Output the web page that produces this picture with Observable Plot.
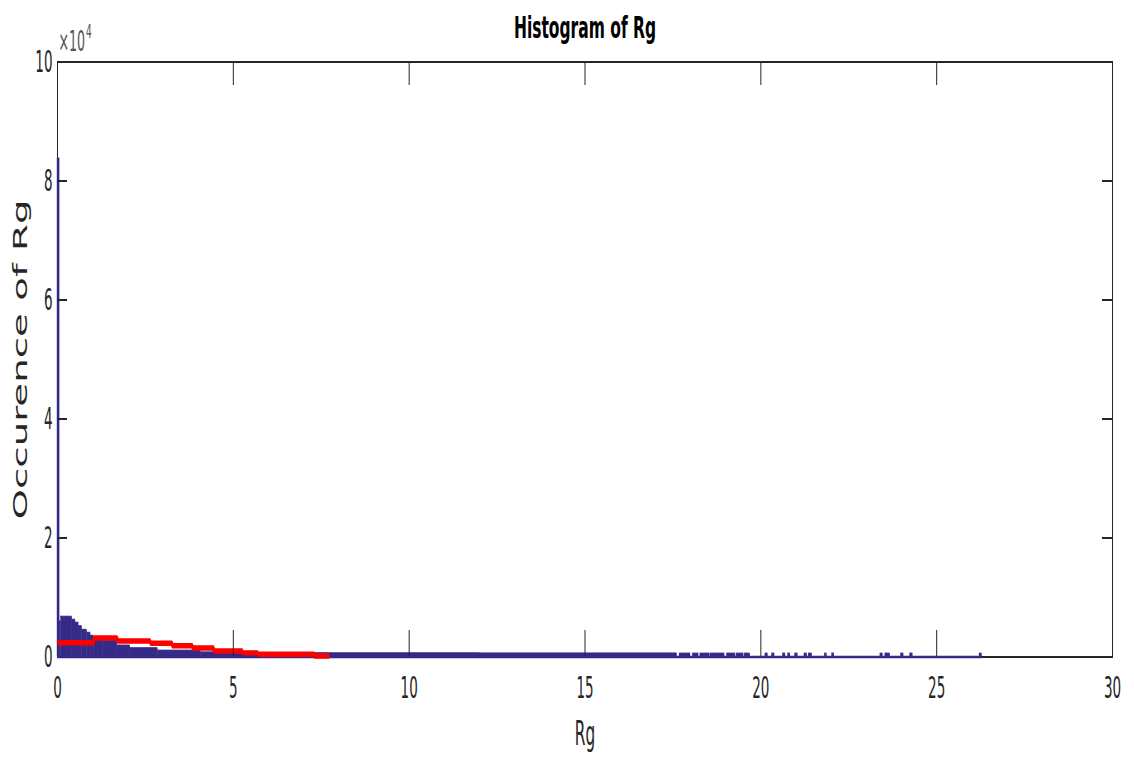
<!DOCTYPE html>
<html>
<head>
<meta charset="utf-8">
<script src="https://cdn.jsdelivr.net/npm/d3@7"></script>
<script src="https://cdn.jsdelivr.net/npm/@observablehq/plot@0.6"></script>
<style>
  html, body { margin: 0; padding: 0; background: #fff; overflow: hidden; }
  #chart { width: 1134px; height: 760px; }
  #chart svg { display: block; transform: scaleY(2); transform-origin: 0 0; }
</style>
</head>
<body>
<div id="chart"></div>
<script>
// ---- data ----
const titleText = "Histogram of Rg";
const xLabel = "Rg";
const yLabel = "Occurence of Rg";
const multiplierBase = "×10";
const multiplierExp = "4";

const xTicks = [0, 5, 10, 15, 20, 25, 30];
const yTicks = [0, 20000, 40000, 60000, 80000, 100000];
const yTickLabels = ["0", "2", "4", "6", "8", "10"];

// blue histogram bins (fine bins)
const blueStart = [0, 0.06, 0.10, 0.42, 0.51, 0.60, 0.70, 0.84, 0.94, 1.03, 1.30, 1.70, 2.07, 2.85, 4.07, 4.69, 5.90, 7.70, 12.0,
  17.69, 18.07, 18.28, 18.57, 19.04, 19.31, 19.54, 20.13, 20.32, 20.63, 20.78, 20.98, 21.24, 21.36, 21.82, 22.03, 23.40, 23.54, 23.99, 24.25, 26.22];
const blueEnd = [0.06, 0.10, 0.42, 0.51, 0.60, 0.70, 0.84, 0.94, 1.03, 1.30, 1.70, 2.07, 2.85, 4.07, 4.69, 5.90, 7.70, 12.0, 17.62,
  18.00, 18.23, 18.55, 18.97, 19.28, 19.51, 19.70, 20.20, 20.39, 20.70, 20.84, 21.05, 21.32, 21.46, 21.88, 22.09, 23.47, 23.68, 24.06, 24.32, 26.29];
const blueCount = [83700, 5900, 6700, 6200, 5700, 5100, 4500, 4000, 3500, 3000, 2600, 1850, 1400, 1000, 700, 600, 560, 550, 520,
  500, 500, 500, 500, 500, 500, 500, 500, 500, 500, 500, 500, 500, 500, 500, 500, 500, 500, 500, 500, 500];
const blueBaselineEnd = 26.29;

// red step histogram (coarse bins)
const redEdges = [0, 1.03, 1.70, 2.64, 3.26, 3.84, 4.44, 5.26, 5.70, 7.30, 7.73];
const redCounts = [2400, 3200, 2700, 2300, 1900, 1500, 1000, 700, 450, 170];

// ---- styles ----
const blue = "#352A87";
const red = "#FF0000";
const axisColor = "#262626";
const condensed = "'DejaVu Sans Condensed', 'Liberation Sans Narrow', 'DejaVu Sans', sans-serif";

const blueTable = blueStart.map((s, i) => ({start: s, end: blueEnd[i], count: blueCount[i]}));
const redTable = redEdges.map((e, i) => ({x: e, y: redCounts[Math.min(i, redCounts.length - 1)]}));

const W = 1134, H = 380;
const mL = 57, mR = 22, mT = 30.5, mB = 52;
const plotW = W - mL - mR, plotH = H - mT - mB;
const xTickLen = 13, yTickLen = 10;
const innerXTicks = xTicks.slice(1, -1);
const innerYTicks = yTicks.slice(1, -1);

const svg = Plot.plot({
  width: W, height: H,
  marginLeft: mL, marginRight: mR, marginTop: mT, marginBottom: mB,
  x: {domain: [0, 30]},
  y: {domain: [0, 100000]},
  style: {fontFamily: condensed, fontSize: "15px", color: axisColor, background: "#fff", overflow: "visible"},
  marks: [
    Plot.frame({stroke: axisColor, strokeWidth: 1}),
    Plot.rect(blueTable, {x1: "start", x2: "end", y1: 0, y2: "count", fill: blue, stroke: blue, strokeWidth: 0.4}),
    Plot.ruleY([0], {x1: 0, x2: blueBaselineEnd, stroke: blue, strokeWidth: 1.2}),
    Plot.line(redTable, {x: "x", y: "y", curve: "step-after", stroke: red, strokeWidth: 2.7, strokeLinecap: "butt", strokeLinejoin: "miter"}),
    // inward ticks (MATLAB style) on all four sides
    Plot.ruleX(innerXTicks, {x: d => d, insetTop: plotH - xTickLen, stroke: axisColor, strokeWidth: 1}),
    Plot.ruleX(innerXTicks, {x: d => d, insetBottom: plotH - xTickLen + 1, stroke: axisColor, strokeWidth: 1}),
    Plot.ruleY(innerYTicks, {y: d => d, insetRight: plotW - yTickLen, stroke: axisColor, strokeWidth: 1}),
    Plot.ruleY(innerYTicks, {y: d => d, insetLeft: plotW - yTickLen, stroke: axisColor, strokeWidth: 1}),
    Plot.axisX({ticks: xTicks, tickSize: 0, tickPadding: 10, tickFormat: d => String(d), label: xLabel, labelAnchor: "center", labelArrow: false, labelOffset: 44, fontSize: 15}),
    Plot.axisY({ticks: yTicks, tickSize: 0, tickPadding: 5, tickFormat: d => yTickLabels[yTicks.indexOf(d)], label: yLabel, labelAnchor: "center", labelArrow: false, labelOffset: 44, fontSize: 15}),
    Plot.text([titleText], {frameAnchor: "top", dy: -12, lineAnchor: "bottom", fontWeight: "bold", fontSize: 15.5, fontFamily: "'DejaVu Sans', sans-serif", fill: "#000"}),
    Plot.text([multiplierBase], {frameAnchor: "top-left", dx: 1, dy: -5.5, lineAnchor: "bottom", textAnchor: "start", fontSize: 14, fill: "#555"}),
    Plot.text([multiplierExp], {frameAnchor: "top-left", dx: 28.5, dy: -12, lineAnchor: "bottom", textAnchor: "start", fontSize: 10, fill: "#555"})
  ]
});

document.getElementById("chart").appendChild(svg);

// label fonts
d3.select(svg).selectAll('[aria-label="x-axis label"]').attr("font-size", 17);
d3.select(svg).selectAll('[aria-label="y-axis label"]').attr("font-size", 19.4).attr("font-family", "'DejaVu Sans', sans-serif");
</script>
</body>
</html>
